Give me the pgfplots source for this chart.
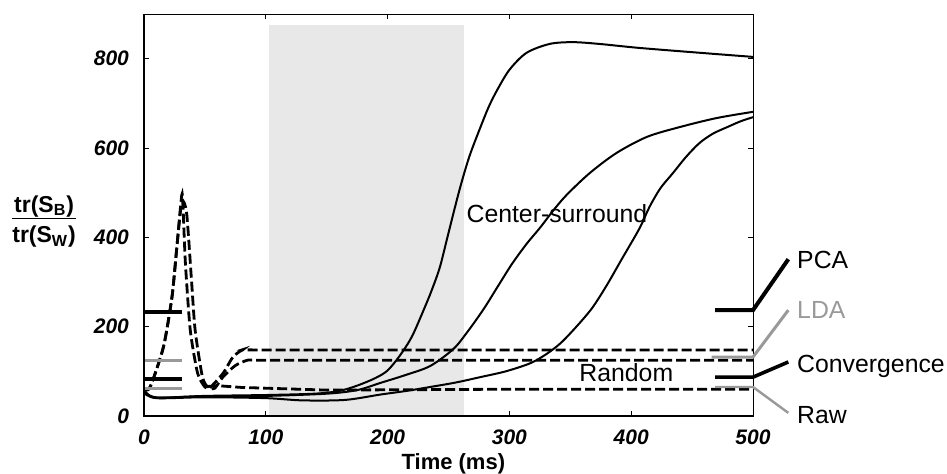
\documentclass[border=0pt]{standalone}
\usepackage{fontspec}
\setmainfont{Liberation Sans}
\usepackage{pgfplots}
\pgfplotsset{compat=1.18}

\definecolor{ldagray}{gray}{0.6}
\definecolor{shade}{gray}{0.91}

\begin{document}
\begin{tikzpicture}
\path[use as bounding box] (-72pt,-28.5pt) rectangle (401.5pt,208pt);
\begin{axis}[
  scale only axis,
  width=304.5pt, height=201pt,
  xmin=0, xmax=500, ymin=0, ymax=900,
  xtick={0,100,...,500}, ytick={0,200,...,800},
  tick align=inside, major tick length=2.5pt,
  axis line style={line width=0.5pt},
  tick style={line width=0.5pt, black},
  ticklabel style={font=\fontsize{10.5}{12}\selectfont\bfseries\itshape},
  /pgf/number format/assume math mode=true,
  xticklabel style={yshift=-3.5pt},
  yticklabel style={xshift=-4pt},
  clip=false,
]
% stimulus window (shaded)
\addplot[fill=shade, draw=none] coordinates {(103,875) (263,875)} \closedcycle;

% center-surround curves
\addplot[black, line width=1pt, smooth, tension=0.5] coordinates {
  (0,58) (5,45) (12,40) (25,42) (50,45) (100,47) (140,50) (160,56) (175,68)
  (190,85) (200,102) (210,135) (220,178) (230,240) (236,280) (243,334)
  (250,410) (259,506) (267,580) (276,645) (283,692) (290,730) (300,775)
  (314,813) (333,833) (352,837) (374,833) (407,824) (462,812) (500,804)};
\addplot[black, line width=1pt, smooth, tension=0.5] coordinates {
  (0,55) (10,42) (50,44) (100,45) (150,50) (175,58) (194,74) (215,92)
  (235,112) (254,150) (266,190) (279,240) (290,288) (302,340) (314,385)
  (325,421) (336,460) (347,495) (366,544) (388,589) (413,625) (440,647)
  (470,667) (500,681)};
\addplot[black, line width=1pt, smooth, tension=0.5] coordinates {
  (0,52) (10,40) (50,42) (100,40) (130,35) (165,36) (194,48) (215,56)
  (235,65) (256,75) (276,87) (297,100) (317,118) (330,138) (342,163)
  (355,200) (368,242) (380,293) (392,350) (407,421) (415,468) (424,510)
  (434,543) (445,580) (456,611) (467,632) (479,647) (490,660) (500,669)};

% random curves (dashed)
\addplot[black, line width=1.4pt, dash pattern=on 5pt off 2pt, smooth, tension=0.4] coordinates {
  (0,62) (5,65) (16,155) (23,267) (27,379) (31,495) (32,470) (34,342)
  (38,192) (44,96) (50,65) (54,63) (65,96) (73,132) (81,148) (90,148)
  (200,148) (300,148) (400,148) (500,148)};
\addplot[black, line width=1.4pt, dash pattern=on 5pt off 2pt, smooth, tension=0.4] coordinates {
  (0,60) (5,64) (16,155) (23,267) (27,379) (31,480) (35,454) (39,304)
  (42,192) (48,87) (53,63) (58,62) (65,88) (75,113) (85,125) (95,125)
  (200,125) (300,125) (400,125) (500,125)};
\addplot[black, line width=1.4pt, dash pattern=on 5pt off 2pt] coordinates {
  (52,66) (60,68) (80,64) (150,58) (300,60) (500,60)};

% reference levels, left
\addplot[black, line width=2pt] coordinates {(0,233) (31,233)};
\addplot[ldagray, line width=1.5pt] coordinates {(0,125) (31,125)};
\addplot[black, line width=1.8pt] coordinates {(0,83) (31,83)};
\addplot[ldagray, line width=1.2pt] coordinates {(0,62) (31,62)};
% reference levels, right
\addplot[black, line width=2pt] coordinates {(469,237) (500,237) (529,351)};
\addplot[ldagray, line width=1.5pt] coordinates {(466,132) (500,132) (529,237)};
\addplot[black, line width=1.8pt] coordinates {(469,87) (500,87) (529,121)};
\addplot[ldagray, line width=1.2pt] coordinates {(469,65) (500,65) (529,7)};

% axis frame, heavier left and bottom
\draw[line width=1pt] (rel axis cs:0,1) -- (rel axis cs:0,0) -- (rel axis cs:1,0);

\node[font=\fontsize{12.4}{14}\selectfont] at (axis cs:339,454) {Center-surround};
\node[font=\fontsize{12.4}{14}\selectfont] at (axis cs:396,98) {Random};
\node[font=\fontsize{12.4}{14}\selectfont, anchor=base west, inner sep=0] at (axis cs:536,331) {PCA};
\node[font=\fontsize{12.4}{14}\selectfont, anchor=base west, inner sep=0, text=ldagray] at (axis cs:536,219) {LDA};
\node[font=\fontsize{12.4}{14}\selectfont, anchor=base west, inner sep=0] at (axis cs:536,98) {Convergence};
\node[font=\fontsize{12.4}{14}\selectfont, anchor=base west, inner sep=0] at (axis cs:536,-16) {Raw};
\node[font=\fontsize{11}{13}\selectfont\bfseries, anchor=base, inner sep=0] at (axis cs:254,-120) {Time (ms)};
\node[font=\fontsize{11.5}{13}\selectfont\bfseries] at (axis cs:-82,434)
  {\begin{tabular}{@{}c@{}}tr(S\textsubscript{B})\\[-1pt]\hline\rule{0pt}{12pt}tr(S\textsubscript{W})\end{tabular}};
\end{axis}
\end{tikzpicture}
\end{document}
